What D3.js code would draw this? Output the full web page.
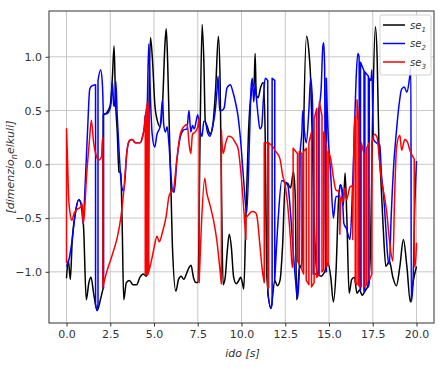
<!DOCTYPE html>
<html><head><meta charset="utf-8">
<script src="https://cdn.jsdelivr.net/npm/d3@7"></script>
<style>body{margin:0;background:#fff}svg{display:block}text{font-family:"DejaVu Sans",sans-serif}</style>
</head><body><svg id="c" width="444" height="369"></svg>
<script>
// ---- data (time, value) ; repeated time = jump ----
const se1 = [[0,-1.06],[0.1,-0.89],[0.22,-1.07],[0.32,-0.73],[0.5,-0.46],[0.7,-0.33],[0.88,-0.40],[0.98,-0.6],[1.13,-1.26],[1.28,-1.1],[1.4,-1.05],[1.55,-1.2],[1.75,-1.36],[1.95,-1.25],[2.1,-1.15],[2.1,0.46],[2.3,0.48],[2.5,0.55],[2.62,0.8],[2.72,1.1],[2.8,0.6],[2.9,0.3],[3.0,-0.07],[3.1,-0.08],[3.18,-0.55],[3.27,-1.26],[3.42,-1.1],[3.6,-1.08],[3.8,-1.12],[4.0,-1.12],[4.2,-1.05],[4.38,-1.02],[4.55,-1.04],[4.65,-1.0],[4.72,0.6],[4.8,1.18],[4.92,0.95],[5.05,0.55],[5.17,0.42],[5.35,0.35],[5.5,0.6],[5.62,1.1],[5.7,1.26],[5.78,0.95],[5.88,0.3],[5.98,-0.3],[6.05,-0.75],[6.25,-1.18],[6.4,-1.07],[6.55,-1.04],[6.7,-1.07],[6.85,-1.02],[7.0,-0.96],[7.12,-0.94],[7.25,-1.05],[7.4,-1.1],[7.52,-1.1],[7.62,0.1],[7.75,1.3],[7.85,0.95],[7.93,0.4],[8.05,0.35],[8.2,0.28],[8.35,0.35],[8.52,0.7],[8.68,1.19],[8.78,0.75],[8.86,-0.3],[8.95,-1.12],[9.07,-1.05],[9.18,-0.82],[9.3,-0.65],[9.42,-0.77],[9.55,-1.05],[9.7,-1.11],[9.85,-1.08],[9.95,-1.05],[10.05,-1.1],[10.13,-1.16],[10.25,-0.5],[10.4,0.3],[10.6,0.7],[10.72,0.75],[10.78,1.03],[10.84,0.65],[10.95,0.62],[11.1,0.72],[11.25,0.76],[11.35,0.3],[11.45,-1.05],[11.68,-1.34],[11.9,-1.08],[12.05,-1.13],[12.2,-1.08],[12.35,-0.75],[12.5,-0.17],[12.65,-0.18],[12.8,-0.22],[12.97,-0.07],[13.07,-0.3],[13.15,-1.26],[13.3,-0.98],[13.45,-0.92],[13.55,0.3],[13.72,1.19],[13.85,1.05],[13.95,0.8],[14.05,0.2],[14.2,-0.75],[14.35,-1.02],[14.55,-1.04],[14.75,-1.0],[14.95,-0.92],[15.1,-1.05],[15.25,-1.28],[15.4,-1.0],[15.55,-0.32],[15.65,-0.19],[15.75,-0.24],[15.82,-0.38],[15.92,-0.08],[16.02,-0.5],[16.15,-1.2],[16.3,-1.07],[16.45,-1.05],[16.6,-1.2],[16.75,-1.17],[16.9,-1.22],[17.05,-1.18],[17.2,-1.14],[17.35,-0.9],[17.5,0.5],[17.65,1.28],[17.75,1.0],[17.85,0.2],[17.95,-0.1],[18.1,-0.6],[18.25,-0.95],[18.45,-0.9],[18.65,-1.05],[18.85,-1.13],[19.05,-0.95],[19.25,-0.7],[19.45,-0.95],[19.65,-1.28],[19.8,-1.1],[20,-0.95]];

const se2 = [[0,-0.95],[0.15,-0.88],[0.3,-0.73],[0.5,-0.46],[0.7,-0.33],[0.85,-0.38],[0.95,-0.55],[1.05,-0.25],[1.2,0.3],[1.33,0.70],[1.45,0.73],[1.66,0.74],[1.66,-1.3],[1.75,-1.36],[1.8,-1.3],[1.8,0.78],[1.95,0.88],[2.05,0.75],[2.1,0.5],[2.1,-1.15],[2.12,-1.15],[2.12,0.47],[2.3,0.47],[2.45,0.5],[2.55,0.57],[2.62,0.77],[2.7,0.55],[2.75,0.54],[2.82,0.77],[2.9,0.45],[2.98,0.2],[3.08,-0.08],[3.17,-0.22],[3.27,-0.25],[3.46,0.13],[3.6,0.22],[3.75,0.23],[3.95,0.2],[4.2,0.2],[4.35,0.26],[4.45,0.35],[4.5,0.45],[4.6,0.5],[4.7,1.12],[4.8,0.6],[4.89,0.29],[5.04,0.16],[5.17,0.28],[5.35,0.35],[5.49,0.6],[5.55,0.38],[5.65,0.3],[5.75,0.35],[5.85,0.2],[5.95,-0.05],[6.05,-0.24],[6.15,-0.26],[6.31,0.04],[6.5,0.25],[6.7,0.32],[6.88,0.33],[7.0,0.5],[7.1,0.3],[7.2,0.36],[7.3,0.33],[7.5,0.46],[7.6,0.35],[7.74,0.26],[7.85,0.4],[7.93,0.4],[8.05,0.3],[8.2,0.26],[8.35,0.35],[8.5,0.5],[8.6,0.69],[8.66,0.82],[8.75,0.5],[8.85,0.5],[9.0,0.52],[9.17,0.71],[9.36,0.74],[9.5,0.68],[9.65,0.58],[9.8,0.45],[9.96,0.2],[10.1,-0.1],[10.3,-0.45],[10.45,0.2],[10.55,0.72],[10.62,0.8],[10.7,0.58],[10.78,0.75],[10.85,0.62],[10.95,0.45],[11.05,0.33],[11.15,0.35],[11.25,0.6],[11.35,0.8],[11.5,0.78],[11.5,-1.2],[11.68,-1.34],[11.75,-1.3],[11.75,0.8],[11.9,0.78],[11.9,-1.08],[12.1,-0.5],[12.3,-0.15],[12.5,-0.17],[12.65,-0.2],[12.8,-0.45],[12.95,-0.8],[13.1,-1.1],[13.2,-1.25],[13.3,-1.0],[13.35,0.1],[13.45,0.3],[13.5,0.5],[13.6,0.3],[13.7,0.2],[13.85,0.5],[13.95,0.8],[14.05,0.6],[14.1,0.2],[14.1,-1.02],[14.4,-1.02],[14.4,0.5],[14.55,0.7],[14.65,1.1],[14.7,1.13],[14.75,0.9],[14.8,-1.0],[14.85,-1.0],[14.85,0.8],[14.9,0.5],[14.96,0.25],[15.1,-0.1],[15.25,-0.5],[15.4,-0.3],[15.55,-0.3],[15.65,-0.19],[15.75,-0.25],[15.85,-0.55],[16.0,-0.6],[16.2,-0.7],[16.35,-0.2],[16.45,0.3],[16.55,0.8],[16.65,1.03],[16.72,1.0],[16.75,-1.17],[16.8,-1.17],[16.8,0.95],[17.0,0.87],[17.0,-1.18],[17.05,-1.18],[17.05,0.86],[17.25,0.82],[17.25,-1.14],[17.3,-1.1],[17.3,0.8],[17.4,0.78],[17.45,0.88],[17.5,0.5],[17.55,0.23],[17.7,0.2],[17.9,0.18],[18.0,-0.1],[18.1,-0.25],[18.25,-0.6],[18.35,-0.85],[18.45,-0.93],[18.55,-0.5],[18.7,0.0],[18.85,0.3],[19.0,0.55],[19.15,0.7],[19.3,0.72],[19.45,0.67],[19.6,0.8],[19.68,0.9],[19.7,-1.28],[19.8,-1.1],[19.9,-0.4],[20,0.03]];

const se3 = [[0,-0.92],[0,0.33],[0.05,0.1],[0.12,-0.3],[0.2,-0.45],[0.3,-0.52],[0.45,-0.45],[0.6,-0.42],[0.8,-0.4],[0.9,-0.37],[0.95,-0.55],[1.0,-0.5],[1.15,-0.1],[1.3,0.2],[1.42,0.41],[1.55,0.2],[1.7,0.08],[1.85,0.04],[2.0,0.07],[2.06,0.25],[2.08,0.25],[2.08,-1.14],[2.3,-1.0],[2.6,-0.85],[2.9,-0.68],[3.1,-0.5],[3.27,-0.25],[3.46,0.13],[3.6,0.22],[3.75,0.23],[3.95,0.2],[4.2,0.2],[4.35,0.26],[4.45,0.35],[4.5,0.45],[4.5,-1.03],[4.53,-1.03],[4.53,0.48],[4.57,0.52],[4.57,-1.02],[4.6,-1.02],[4.6,0.55],[4.63,0.58],[4.63,-1.02],[4.67,-1.02],[4.67,0.55],[4.7,0.5],[4.7,-1.0],[4.85,-0.9],[5.0,-0.78],[5.17,-0.67],[5.3,-0.72],[5.5,-0.62],[5.7,-0.48],[5.85,-0.3],[5.95,-0.26],[6.1,-0.24],[6.3,0.04],[6.5,0.28],[6.7,0.35],[6.9,0.37],[7.0,0.2],[7.1,0.1],[7.2,0.28],[7.35,0.3],[7.5,0.35],[7.58,0.43],[7.58,-1.1],[7.7,-0.6],[7.9,-0.13],[8.0,-0.25],[8.2,-0.38],[8.4,-0.52],[8.6,-0.72],[8.75,-0.95],[8.85,-1.11],[8.85,0.32],[8.95,0.1],[9.1,0.2],[9.25,0.26],[9.45,0.25],[9.65,0.2],[9.8,0.15],[9.95,-0.05],[10.1,-0.35],[10.25,-0.7],[10.25,-0.5],[10.4,-0.47],[10.6,-0.44],[10.8,-0.45],[10.9,-0.5],[11.05,-0.75],[11.2,-1.0],[11.3,-1.1],[11.3,0.2],[11.5,0.2],[11.5,-1.15],[11.55,-1.15],[11.55,0.2],[11.7,0.18],[11.85,0.15],[11.95,0.12],[12.05,0.1],[12.2,0.05],[12.35,-0.1],[12.5,-0.2],[12.65,-0.4],[12.8,-0.7],[12.9,-0.96],[12.95,-0.9],[12.95,0.15],[13.1,0.12],[13.2,0.1],[13.2,-0.9],[13.3,-0.93],[13.3,0.12],[13.45,0.1],[13.45,-0.98],[13.55,-1.02],[13.55,0.12],[13.7,0.15],[13.7,-1.08],[13.85,-1.12],[13.85,0.2],[14.0,0.3],[14.0,-1.14],[14.15,-1.1],[14.15,0.42],[14.3,0.52],[14.3,-1.05],[14.45,-1.02],[14.45,0.58],[14.6,0.45],[14.6,-1.0],[14.7,-0.98],[14.7,0.3],[14.85,0.17],[14.85,-0.95],[14.95,-0.93],[14.95,0.12],[15.1,0.05],[15.25,-0.12],[15.4,-0.24],[15.55,-0.25],[15.62,-0.3],[15.62,-0.65],[15.7,-0.3],[15.8,-0.35],[15.9,-0.22],[16.0,-0.33],[16.2,-0.21],[16.35,-0.2],[16.35,-0.7],[16.45,0.35],[16.5,0.45],[16.5,-1.1],[16.6,-1.12],[16.6,0.6],[16.7,0.4],[16.7,-1.13],[16.85,-1.14],[16.85,0.2],[17.0,0.1],[17.0,-1.14],[17.15,-1.12],[17.15,0.15],[17.3,0.2],[17.3,-1.08],[17.45,-1.02],[17.45,0.2],[17.6,0.28],[17.75,0.25],[17.85,0.1],[18.0,-0.15],[18.2,-0.33],[18.3,-0.45],[18.45,-0.7],[18.65,-0.9],[18.75,-0.3],[18.86,0.16],[19.05,0.27],[19.15,0.13],[19.33,0.23],[19.5,0.2],[19.62,0.13],[19.87,0.05],[19.87,-0.95],[19.92,-0.95],[20,-0.73]];

const seriesNames = ["se1","se2","se3"];
const seriesColors = ["#000000","#0000ff","#ff0000"];
const xTicks = [0,2.5,5,7.5,10,12.5,15,17.5,20];
const yTicks = [-1,-0.5,0,0.5,1];

// ---- layout ----
const svg = d3.select("#c");
const L=49,R=434,T=11,B=323;
const x = d3.scaleLinear().domain([-1,21]).range([L,R]);
const y = d3.scaleLinear().domain([-1.476,1.426]).range([B,T]);

// grid
const g = svg.append("g");
g.selectAll("line.gx").data(xTicks).join("line")
 .attr("x1",d=>x(d)).attr("x2",d=>x(d)).attr("y1",T).attr("y2",B)
 .attr("stroke","#c8c8c8").attr("stroke-width",1);
g.selectAll("line.gy").data(yTicks).join("line")
 .attr("y1",d=>y(d)).attr("y2",d=>y(d)).attr("x1",L).attr("x2",R)
 .attr("stroke","#c8c8c8").attr("stroke-width",1);

// series
svg.append("clipPath").attr("id","cp").append("rect").attr("x",L).attr("y",T).attr("width",R-L).attr("height",B-T);
const lineGen = d3.line().x(d=>x(d[0])).y(d=>y(d[1])).curve(d3.curveMonotoneX);
function buildPath(pts){
  const segs=[]; let cur=[pts[0]];
  for(let i=1;i<pts.length;i++){
    if(pts[i][0]===pts[i-1][0]){ segs.push(cur); cur=[pts[i]]; } else cur.push(pts[i]);
  }
  segs.push(cur);
  let d="";
  segs.forEach((s,i)=>{
    let p = s.length>1 ? lineGen(s) : ("M"+x(s[0][0])+","+y(s[0][1]));
    if(i>0) p = "L"+p.slice(1);
    d+=p;
  });
  return d;
}
[se1,se2,se3].forEach((s,i)=>{
  svg.append("path").attr("d",buildPath(s)).attr("fill","none")
   .attr("stroke",seriesColors[i]).attr("stroke-width",1.5)
   .attr("stroke-linejoin","round").attr("clip-path","url(#cp)");
});

// frame
svg.append("rect").attr("x",L).attr("y",T).attr("width",R-L).attr("height",B-T)
 .attr("fill","none").attr("stroke","#333").attr("stroke-width",1);

// axes
const xa = svg.append("g").attr("transform",`translate(0,${B})`)
 .call(d3.axisBottom(x).tickValues(xTicks).tickFormat(d3.format(".1f")).tickSize(3.5).tickPadding(3.5));
const ya = svg.append("g").attr("transform",`translate(${L},0)`)
 .call(d3.axisLeft(y).tickValues(yTicks).tickFormat(d=>d3.format(".1f")(d).replace("-","\u2212")).tickSize(3.5).tickPadding(3.5));
[xa,ya].forEach(a=>{
  a.select(".domain").remove();
  a.selectAll("line").attr("stroke","#333");
  a.selectAll("text").attr("fill","#333").style("font-size","11px").style("font-family","DejaVu Sans");
});

// axis labels
const xl = svg.append("text").attr("x",(L+R)/2+1).attr("y",357).attr("text-anchor","middle")
 .style("font-size","11px").style("font-style","italic").attr("fill","#333");
xl.append("tspan").text("ido");
xl.append("tspan").text(" [s]");
const yl = svg.append("text").attr("transform",`translate(14,${(T+B)/2}) rotate(-90)`).attr("text-anchor","middle")
 .style("font-size","11px").style("font-style","italic").attr("fill","#333");
yl.append("tspan").text("[dimenzio");
yl.append("tspan").text("n").attr("dy",3).style("font-size","8px");
yl.append("tspan").text("elkuli]").attr("dy",-3);

// legend
const lg = svg.append("g");
lg.append("rect").attr("x",380).attr("y",15).attr("width",51).attr("height",60).attr("rx",2)
 .attr("fill","#fff").attr("fill-opacity",0.85).attr("stroke","#d0d0d0");
seriesNames.forEach((n,i)=>{
  const yy = 25 + i*18.5;
  lg.append("line").attr("x1",383).attr("x2",405).attr("y1",yy).attr("y2",yy)
   .attr("stroke",seriesColors[i]).attr("stroke-width",1.5);
  const t = lg.append("text").attr("x",410).attr("y",yy+3.5).style("font-size","10px").style("font-style","italic").attr("fill","#333");
  t.append("tspan").text("se");
  t.append("tspan").text(String(i+1)).attr("dy",3).style("font-size","7px");
});
</script></body></html>
